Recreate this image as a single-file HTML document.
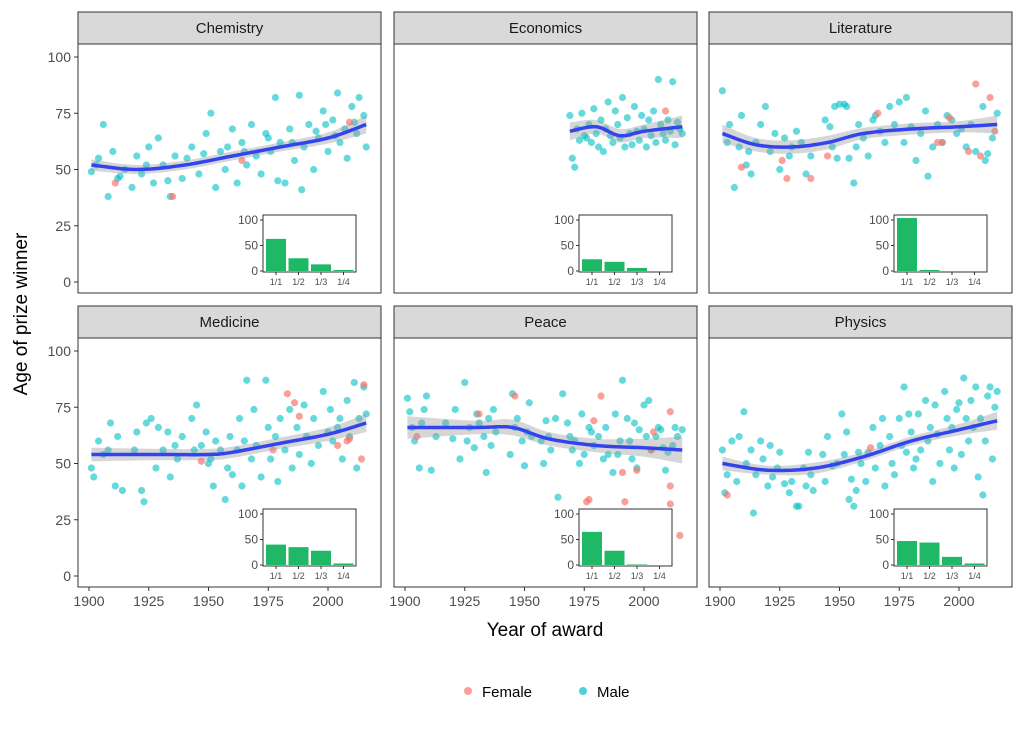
<!DOCTYPE html>
<html><head><meta charset="utf-8"><style>
body{margin:0;background:#fff;}
svg{display:block;font-family:"Liberation Sans",sans-serif;}
</style></head><body>
<svg id="chart" width="1024" height="731"></svg>
<script>
const panelNames=["Chemistry","Economics","Literature","Medicine","Peace","Physics"];
const chemMale=[[1901,49],[1904,55],[1906,70],[1908,38],[1910,58],[1912,46],[1915,50],[1918,42],[1920,56],[1922,48],[1925,60],[1927,44],[1929,64],[1931,52],[1934,38],[1936,56],[1939,46],[1943,60],[1946,48],[1949,66],[1951,75],[1953,42],[1955,58],[1957,50],[1960,68],[1962,44],[1964,62],[1966,52],[1968,70],[1970,56],[1972,48],[1974,66],[1976,58],[1978,82],[1980,62],[1982,44],[1984,68],[1986,54],[1988,83],[1990,60],[1992,70],[1994,50],[1996,64],[1998,76],[2000,58],[2002,72],[2004,84],[2005,62],[2007,68],[2008,55],[2010,78],[2012,66],[2013,82],[2015,74],[2016,60],[1903,52],[1913,47],[1924,52],[1933,45],[1941,55],[1948,57],[1958,60],[1965,58],[1975,64],[1985,62],[1995,67],[2003,65],[2011,71],[1979,45],[1989,41],[1999,70]];
const chemFemale=[[1911,44],[1935,38],[1964,54],[2009,71]];
const econMale=[[1969,74],[1970,55],[1971,51],[1972,68],[1973,63],[1974,75],[1975,65],[1976,64],[1977,70],[1978,62],[1979,77],[1980,66],[1981,60],[1982,72],[1983,58],[1984,68],[1985,80],[1986,65],[1987,62],[1988,76],[1989,70],[1990,64],[1991,82],[1992,60],[1993,73],[1994,66],[1995,61],[1996,78],[1997,67],[1998,63],[1999,74],[2000,68],[2001,60],[2002,72],[2003,65],[2004,76],[2005,62],[2006,90],[2007,70],[2008,66],[2009,63],[2010,72],[2011,67],[2012,89],[2013,61],[2014,71],[2015,68],[2016,66]];
const econFemale=[[2009,76]];
const litMale=[[1901,85],[1903,62],[1904,70],[1906,42],[1908,60],[1909,74],[1911,52],[1912,58],[1913,48],[1915,62],[1917,70],[1919,78],[1921,58],[1923,66],[1925,50],[1927,64],[1929,56],[1930,60],[1932,67],[1934,62],[1936,48],[1938,56],[1944,72],[1946,69],[1947,60],[1948,78],[1949,55],[1950,79],[1952,79],[1953,78],[1954,55],[1956,44],[1957,60],[1958,70],[1960,64],[1962,56],[1964,72],[1965,74],[1967,67],[1969,62],[1971,78],[1973,70],[1975,80],[1977,62],[1978,82],[1980,69],[1982,54],[1984,66],[1986,76],[1987,47],[1989,60],[1991,70],[1993,62],[1995,74],[1997,72],[1999,66],[2001,68],[2003,60],[2005,70],[2007,58],[2010,78],[2011,54],[2012,57],[2014,64],[2016,75]];
const litFemale=[[1909,51],[1926,54],[1928,46],[1938,46],[1945,56],[1966,75],[1991,62],[1993,62],[1996,73],[2004,58],[2007,88],[2009,56],[2013,82],[2015,67]];
const medMale=[[1901,48],[1902,44],[1904,60],[1906,54],[1908,56],[1909,68],[1911,40],[1912,62],[1914,38],[1919,56],[1920,64],[1922,38],[1923,33],[1924,68],[1926,70],[1928,48],[1929,66],[1931,56],[1933,64],[1934,44],[1936,58],[1937,52],[1939,62],[1943,70],[1944,56],[1945,76],[1947,58],[1949,64],[1950,50],[1951,52],[1952,40],[1953,60],[1955,56],[1957,34],[1958,48],[1959,62],[1960,45],[1962,56],[1963,70],[1964,40],[1965,60],[1966,87],[1968,52],[1969,74],[1970,58],[1972,44],[1974,87],[1975,66],[1976,52],[1978,62],[1979,42],[1980,70],[1982,56],[1984,74],[1985,48],[1987,66],[1988,54],[1990,76],[1991,62],[1993,50],[1994,70],[1996,58],[1998,82],[2000,64],[2001,74],[2002,60],[2004,66],[2005,70],[2006,52],[2008,78],[2009,62],[2011,86],[2012,48],[2013,70],[2015,84],[2016,72]];
const medFemale=[[1947,51],[1977,56],[1983,81],[1986,77],[1988,71],[2004,58],[2008,60],[2009,61],[2014,52],[2015,85]];
const peaceMale=[[1901,79],[1902,73],[1903,66],[1904,60],[1906,48],[1907,68],[1908,74],[1909,80],[1911,47],[1913,62],[1917,68],[1920,61],[1921,74],[1923,52],[1925,86],[1926,60],[1927,66],[1929,57],[1930,72],[1931,68],[1933,62],[1934,46],[1935,70],[1936,58],[1937,74],[1938,64],[1944,54],[1945,81],[1946,66],[1947,70],[1949,60],[1950,49],[1951,64],[1952,77],[1953,62],[1957,60],[1958,50],[1959,69],[1960,62],[1961,56],[1963,70],[1964,35],[1966,81],[1968,68],[1969,62],[1970,56],[1971,60],[1973,50],[1974,72],[1975,54],[1977,66],[1978,64],[1979,58],[1981,62],[1983,52],[1984,66],[1985,54],[1987,46],[1988,72],[1989,54],[1990,60],[1991,87],[1993,70],[1994,60],[1995,52],[1996,68],[1997,48],[1998,65],[2000,76],[2001,62],[2002,78],[2003,56],[2005,62],[2006,66],[2007,65],[2008,57],[2009,47],[2010,55],[2012,58],[2013,66],[2014,62],[2016,65]];
const peaceFemale=[[1905,62],[1931,72],[1946,80],[1976,33],[1977,34],[1979,69],[1982,80],[1991,46],[1992,33],[1997,47],[2003,56],[2004,64],[2011,32],[2011,40],[2011,73],[2015,18]];
const physMale=[[1901,56],[1902,37],[1903,45],[1905,60],[1907,42],[1908,62],[1910,73],[1911,50],[1913,56],[1914,28],[1915,45],[1917,60],[1918,52],[1920,40],[1921,58],[1922,44],[1924,48],[1925,55],[1927,41],[1929,37],[1930,42],[1932,31],[1933,31],[1935,48],[1936,40],[1937,55],[1938,45],[1939,38],[1943,54],[1944,42],[1945,62],[1947,49],[1949,50],[1951,72],[1952,54],[1953,64],[1954,34],[1955,43],[1956,31],[1957,38],[1958,55],[1959,50],[1961,42],[1962,55],[1964,66],[1965,48],[1967,58],[1968,70],[1969,40],[1971,62],[1972,50],[1973,45],[1975,70],[1976,58],[1977,84],[1978,55],[1979,72],[1980,64],[1981,48],[1982,52],[1983,72],[1984,56],[1986,78],[1987,60],[1988,66],[1989,42],[1990,76],[1991,63],[1992,50],[1994,82],[1995,70],[1996,56],[1997,66],[1998,48],[1999,74],[2000,77],[2001,54],[2002,88],[2003,70],[2004,60],[2005,78],[2006,66],[2007,84],[2008,44],[2009,70],[2010,36],[2011,60],[2012,80],[2013,84],[2014,52],[2015,75],[2016,82]];
const physFemale=[[1903,36],[1963,57]];
const smoothYears=[[1901,1920,1940,1960,1980,2000,2016],[1969,1980,1990,2000,2016],[1901,1915,1930,1945,1960,1980,2000,2016],[1901,1930,1950,1960,1980,2000,2016],[1901,1930,1945,1960,1980,2000,2016],[1901,1920,1940,1960,1980,2000,2016]];
const smoothAges=[[52,50,52,56,60,64,70],[67,69,65,67,69],[66,61,60,62,66,68,69,70],[54,54,54,55,59,63,68],[66,66,66,61,58,57,56],[50,47,48,53,60,65,69]];
const bandHalf=[[2.5,2,2,2,2,2.5,4],[4,3,3,3,5],[4,3,3,3,2.5,2.5,2.5,4],[3,2.5,2.5,2.5,2.5,3,4],[5,3,3.5,3,3,4,6],[3,2,2.5,2,2,2.5,4]];
const insetCats=["1/1","1/2","1/3","1/4"];
const insetCounts=[[63,25,13,2],[23,18,6,0],[104,2,0,0],[40,35,28,3],[65,28,1,0],[47,44,16,3]];
const yTicks=[0,25,50,75,100];
const xTicks=[1900,1925,1950,1975,2000];
const insetTicks=[0,50,100];
const malePts=[chemMale,econMale,litMale,medMale,peaceMale,physMale];
const femalePts=[chemFemale,econFemale,litFemale,medFemale,peaceFemale,physFemale];

const svg=document.getElementById('chart');
const NS="http://www.w3.org/2000/svg";
function mk(tag,attrs,parent){const e=document.createElementNS(NS,tag);for(const k in attrs)e.setAttribute(k,attrs[k]);(parent||svg).appendChild(e);return e;}
const colX=[78,394,709], panW=303;
const rowTop=[44,338], panH=249;
const stripH=32;
function px(c,yr){return colX[c]+11+(yr-1900)*2.39;}
function py(r,a){return rowTop[r]+238-a*2.25;}

panelNames.forEach((name,i)=>{
  const c=i%3,r=Math.floor(i/3);
  const g=mk('g',{});
  
  
  const st=mk('rect',{x:colX[c],y:rowTop[r]-stripH,width:panW,height:stripH,fill:'#d9d9d9',stroke:'#333','stroke-width':1},g);
  
  
  const stt=mk('text',{x:colX[c]+panW/2,y:rowTop[r]-11,'text-anchor':'middle','font-size':15,fill:'#1a1a1a'},g);
  stt.textContent=name;
  
  
  mk('rect',{x:colX[c],y:rowTop[r],width:panW,height:panH,fill:'#fff',stroke:'none'},g);
  // y ticks on column 0
  if(c===0){yTicks.forEach(t=>{const y=py(r,t);mk('line',{x1:colX[0]-4,x2:colX[0],y1:y,y2:y,stroke:'#333'},g);
    const tx=mk('text',{x:colX[0]-7,y:y+5,'text-anchor':'end','font-size':14,fill:'#4d4d4d'},g);tx.textContent=t;
    
    });}
  if(r===1){xTicks.forEach(t=>{const x=px(c,t);mk('line',{x1:x,x2:x,y1:rowTop[1]+panH,y2:rowTop[1]+panH+4,stroke:'#333'},g);
    const tx=mk('text',{x:x,y:rowTop[1]+panH+19,'text-anchor':'middle','font-size':14,fill:'#4d4d4d'},g);tx.textContent=t;
    
    });}
  // points
  malePts[i].forEach(p=>{const ci=mk('circle',{cx:px(c,p[0]),cy:py(r,p[1]),r:3.6,fill:'#00BFC4','fill-opacity':0.6},g);
    
    });
  femalePts[i].forEach(p=>{const ci=mk('circle',{cx:px(c,p[0]),cy:py(r,p[1]),r:3.6,fill:'#F8766D','fill-opacity':0.7},g);
    
    });
  // smooth band + line
  const ys=smoothYears[i],as=smoothAges[i],bh=bandHalf[i];
  function curve(vals){let pts=[];const n=ys.length;
    for(let k=0;k<n-1;k++){const p0=k>0?k-1:k,p3=k+2<n?k+2:k+1;
      for(let s=0;s<10;s++){const t=s/10;
        const h=(a,b,cc,d)=>0.5*((2*b)+(-a+cc)*t+(2*a-5*b+4*cc-d)*t*t+(-a+3*b-3*cc+d)*t*t*t);
        pts.push([h(ys[p0],ys[k],ys[k+1],ys[p3]),h(vals[p0],vals[k],vals[k+1],vals[p3])]);}}
    pts.push([ys[n-1],vals[n-1]]);return pts;}
  const up=curve(as.map((v,k)=>v+bh[k])),lo=curve(as.map((v,k)=>v-bh[k])),mid=curve(as);
  let d='M'+up.map(p=>px(c,p[0]).toFixed(1)+','+py(r,p[1]).toFixed(1)).join('L')+'L'+lo.reverse().map(p=>px(c,p[0]).toFixed(1)+','+py(r,p[1]).toFixed(1)).join('L')+'Z';
  const band=mk('path',{d:d,fill:'#999','fill-opacity':0.4},g);
  
  
  const ln=mk('path',{d:'M'+mid.map(p=>px(c,p[0]).toFixed(1)+','+py(r,p[1]).toFixed(1)).join('L'),fill:'none',stroke:'#3344ee','stroke-width':3.5},g);
  
  
  mk('rect',{x:colX[c],y:rowTop[r],width:panW,height:panH,fill:'none',stroke:'#333','stroke-width':1},g);
  // inset
  const ix=colX[c]+185, iy=rowTop[r]+171, iw=93, ih=57;
  const ig=mk('g',{},g);
  
  
  mk('rect',{x:ix,y:iy,width:iw,height:ih,fill:'#fff',stroke:'#333','stroke-width':1},ig);
  const iyS=v=>iy+56-v*0.51;
  insetTicks.forEach(t=>{const y=iyS(t);mk('line',{x1:ix-3,x2:ix,y1:y,y2:y,stroke:'#333'},ig);
    const tx=mk('text',{x:ix-5,y:y+4,'text-anchor':'end','font-size':12,fill:'#4d4d4d'},ig);tx.textContent=t;
    
    });
  insetCats.forEach((cat,k)=>{const cx=ix+13+k*22.5;
    const v=insetCounts[i][k];
    const b=mk('rect',{x:cx-10,y:iyS(v),width:20,height:Math.max(v*0.51,0),fill:'#1fb866'},ig);
    
    
    mk('line',{x1:cx,x2:cx,y1:iy+ih,y2:iy+ih+3,stroke:'#333'},ig);
    const tx=mk('text',{x:cx,y:iy+ih+13,'text-anchor':'middle','font-size':9,fill:'#4d4d4d'},ig);tx.textContent=cat;
    
    });
});
const yt=mk('text',{x:27,y:314,'text-anchor':'middle','font-size':19,fill:'#000',transform:'rotate(-90 27 314)'});
yt.textContent='Age of prize winner';


const xt=mk('text',{x:545,y:636,'text-anchor':'middle','font-size':19,fill:'#000'});
xt.textContent='Year of award';


const lg=mk('g',{});


[['Female','#F8766D',468],['Male','#00BFC4',583]].forEach(e=>{
  const ci=mk('circle',{cx:e[2],cy:691,r:4,fill:e[1],'fill-opacity':0.7},lg);
  
  
  const tx=mk('text',{x:e[2]+14,y:697,'font-size':15,fill:'#000'},lg);tx.textContent=e[0];
  
  
});
</script>
</body></html>
